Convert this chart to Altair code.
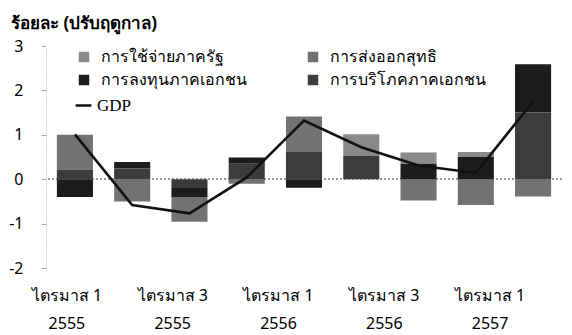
import altair as alt
import pandas as pd
import json

# ---- data ----
quarters = ["Q1/2555", "Q2/2555", "Q3/2555", "Q4/2555", "Q1/2556",
            "Q2/2556", "Q3/2556", "Q4/2556", "Q1/2557"]
tick_line1 = ["ไตรมาส 1", "", "ไตรมาส 3", "", "ไตรมาส 1", "", "ไตรมาส 3", "", "ไตรมาส 1"]
tick_line2 = ["2555", "", "2555", "", "2556", "", "2556", "", "2557"]

series_names = ["การใช้จ่ายภาครัฐ", "การส่งออกสุทธิ", "การลงทุนภาคเอกชน", "การบริโภคภาคเอกชน"]
gov = [0.00, 0.00, 0.00, 0.00, 0.00, 0.49, 0.25, 0.11, 0.00]
netexp = [0.78, -0.50, -0.56, -0.10, 0.80, 0.00, -0.48, -0.58, -0.39]
inv = [-0.40, 0.15, -0.20, 0.14, -0.19, 0.00, 0.35, 0.50, 1.09]
cons = [0.22, 0.24, -0.20, 0.35, 0.61, 0.52, 0.00, 0.00, 1.50]
gdp = [1.01, -0.58, -0.77, 0.04, 1.32, 0.72, 0.31, 0.14, 1.75]
gdp_name = "GDP"

y_ticks = [-2, -1, 0, 1, 2, 3]
title_text = "ร้อยละ (ปรับฤดูกาล)"

series_colors = ["#8a8a8a", "#727272", "#1c1c1c", "#3c3c3c"]
stack_rank = [2, 3, 1, 0]  # consumption nearest zero, then investment, gov, net exports

# ---- tables ----
rows = []
for s_idx, (name, vals) in enumerate(zip(series_names, [gov, netexp, inv, cons])):
    for q, v in zip(quarters, vals):
        rows.append({"quarter": q, "series": name, "value": v, "rank": stack_rank[s_idx]})
bars_df = pd.DataFrame(rows)
gdp_df = pd.DataFrame({"quarter": quarters, "value": gdp, "name": gdp_name})

label_map = {q: ([a, b] if a else "") for q, a, b in zip(quarters, tick_line1, tick_line2)}
label_expr = json.dumps(label_map, ensure_ascii=False) + "[datum.value]"

FONT = "Tahoma, Noto Sans, DejaVu Sans, sans-serif"

x_enc = alt.X(
    "quarter:N",
    sort=quarters,
    title=None,
    scale=alt.Scale(paddingInner=0.37, paddingOuter=0.19),
    axis=alt.Axis(
        labelExpr=label_expr,
        labelAngle=0,
        domain=False,
        ticks=False,
        labelPadding=19,
        labelLineHeight=28,
        labelFontSize=16,
        labelColor="#000000",
        labelFont=FONT,
        labelOffset={"condition": {"test": "datum.value == 'none'", "value": 0},
                     "expr": "-8 - 35*datum.index"},
    ),
)

y_scale = alt.Scale(domain=[-2, 3], nice=False, zero=False)

bars = alt.Chart(bars_df).mark_bar().encode(
    x=x_enc,
    y=alt.Y(
        "value:Q",
        stack="zero",
        scale=y_scale,
        title=None,
        axis=alt.Axis(
            values=y_ticks,
            labelExpr="datum.value < 0 ? '-' + abs(datum.value) : '' + datum.value",
            grid=False,
            domainColor="#aaaaaa",
            domainDash=[1, 2],
            tickColor="#aaaaaa",
            tickSize=5,
            labelPadding=18,
            labelFontSize=16,
            labelColor="#000000",
            labelFont=FONT,
        ),
    ),
    fill=alt.Fill(
        "series:N",
        scale=alt.Scale(domain=series_names, range=series_colors),
        legend=alt.Legend(
            title=None,
            orient="none",
            direction="horizontal",
            legendX=30,
            legendY=3,
            columns=2,
            columnPadding=58,
            rowPadding=7,
            symbolType="square",
            symbolSize=110,
            symbolStrokeWidth=0,
            labelFontSize=16,
            labelFont=FONT,
            labelColor="#000000",
            labelOffset=9,
        ),
    ),
    order=alt.Order("rank:Q"),
)

zero = alt.Chart(gdp_df).mark_rule(color="#999999", strokeDash=[2, 2], strokeWidth=1).encode(
    y=alt.datum(0, scale=y_scale)
)

line = alt.Chart(gdp_df).mark_line(strokeWidth=2.6).encode(
    x=alt.X("quarter:N", sort=quarters),
    y=alt.Y("value:Q", scale=y_scale),
    stroke=alt.Stroke(
        "name:N",
        scale=alt.Scale(domain=[gdp_name], range=["#111111"]),
        legend=alt.Legend(
            title=None,
            orient="none",
            legendX=28,
            legendY=50,
            symbolType="stroke",
            symbolSize=250,
            symbolStrokeWidth=2.5,
            labelFontSize=17,
            labelFont="Liberation Serif, serif",
            labelColor="#000000",
            labelOffset=4,
        ),
    ),
)

chart = alt.layer(zero, bars, line).properties(
    width=516,
    height=222,
    padding={"left": 38, "top": 38, "right": 2, "bottom": 75},
    autosize="none",
    title=alt.TitleParams(
        text=title_text,
        anchor="start",
        frame="group",
        dx=-35,
        offset=5,
        fontSize=17,
        fontWeight="bold",
        font=FONT,
        color="#000000",
    ),
).resolve_scale(fill="independent").configure_view(stroke=None)

chart.save("out.html", embed_options={"renderer": "svg", "actions": False})
